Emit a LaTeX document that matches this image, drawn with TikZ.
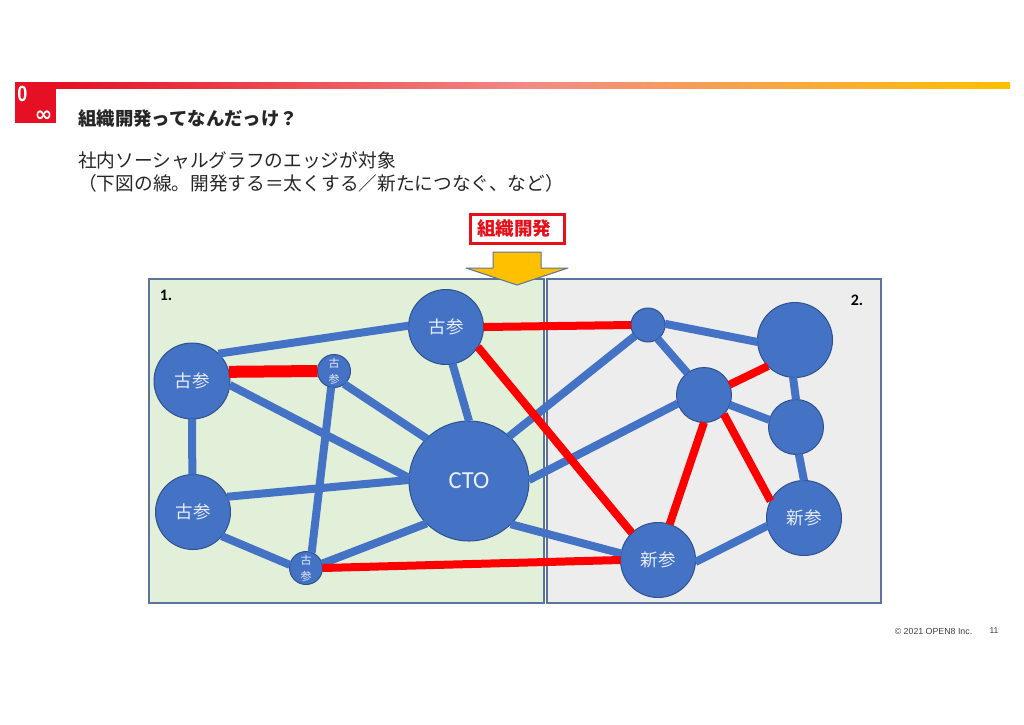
\documentclass[tikz,border=0pt]{standalone}
\usepackage{fontspec}
\setmainfont{Carlito}
\newfontfamily\cjk{Noto Sans CJK JP}
\newfontfamily\heros{Liberation Sans}
\newfontfamily\dejavu{DejaVu Sans}
\definecolor{nodeblue}{HTML}{4472C4}
\definecolor{nodeedge}{HTML}{2F528F}
\definecolor{logored}{HTML}{E60F24}
\definecolor{panelgreen}{HTML}{E2F0D9}
\definecolor{panelgray}{HTML}{EDEDED}
\definecolor{panelline}{HTML}{5B749E}
\definecolor{gold}{HTML}{FFC000}
\definecolor{barpink}{HTML}{F28A86}
\definecolor{devred}{HTML}{E5101A}
\tikzset{
  x=1pt,y=-1pt,
  vnode/.style={circle,fill=nodeblue,draw=nodeedge,line width=1pt,inner sep=0pt,outer sep=0pt,text=white!88!nodeblue,align=center},
  big/.style={vnode,minimum size=75pt,font=\cjk\fontsize{17.5}{19}\selectfont},
  hubnode/.style={vnode,minimum size=55pt},
  tiny/.style={vnode,minimum size=33pt,font=\cjk\fontsize{11}{16}\selectfont},
  blueedge/.style={draw=nodeblue,line width=8pt},
  rededge/.style={draw=red,line width=8pt},
  panel/.style={draw=panelline,line width=1.2pt},
  body/.style={anchor=west,inner sep=0pt,font=\cjk\fontsize{18.7}{22}\selectfont,text=black!85},
}
\begin{document}
\begin{tikzpicture}
\useasboundingbox (0,0) rectangle (1024,724);
\fill[white] (0,0) rectangle (1024,724);
% top bar and logo
\shade[left color=logored,right color=barpink,shading angle=90] (56,82) rectangle (530,88);
\shade[left color=barpink,right color=gold,shading angle=90] (530,82) rectangle (1010,88);
\fill[logored] (15,82) rectangle (56,123);
\node[inner sep=0pt,text=white,xscale=.82] (zero) at (22.5,94) {\heros\bfseries\fontsize{22}{22}\selectfont 0};
\node[inner sep=0pt,text=white] (inf) at (43.5,116.5) {\dejavu\bfseries\fontsize{21}{21}\selectfont ∞};
% texts
\node[body,font=\cjk\bfseries\fontsize{18.4}{22}\selectfont] (title) at (78,119) {組織開発ってなんだっけ？};
\node[body] (l1) at (78,160) {社内ソーシャルグラフのエッジが対象};
\node[body] (l2) at (78,183) {（下図の線。開発する＝太くする／新たにつなぐ、など）};
% panels
\fill[panelgreen] (149,279) rectangle (544,603);
\draw[panel] (149,279) rectangle (544,603);
\fill[panelgray] (547,279) rectangle (881,603);
\draw[panel] (547,279) rectangle (881,603);
\node[inner sep=0pt,font=\bfseries\fontsize{16}{16}\selectfont] (p1) at (166,295) {1.};
\node[inner sep=0pt,font=\bfseries\fontsize{16}{16}\selectfont] (p2) at (857,300) {2.};
% arrow and box
\draw[fill=gold,draw=panelline,line width=1pt,line join=round] (493,252) -- (541,252) -- (541,268) -- (568,268) -- (517,285) -- (466,268) -- (493,268) -- cycle;
\node[draw=devred,fill=white,line width=3pt,minimum width=94pt,minimum height=29pt,inner sep=0pt,text=devred,font=\cjk\bfseries\fontsize{18.5}{20}\selectfont] (dev) at (517,228.5) {\kern-6pt 組織開発};
% nodes
\node[big,minimum size=76pt] (v1) at (192,381) {古参};
\node[big] (v2) at (193,512) {古参};
\node[big] (v3) at (446,327) {古参};
\node[tiny] (s1) at (334,371) {古\\参};
\node[tiny] (s2) at (306,568) {古\\参};
\node[vnode,minimum size=120pt,font=\fontsize{24.5}{25}\selectfont] (cto) at (469,481) {CTO};
\node[vnode,minimum size=34pt] (n1) at (648,325) {};
\node[hubnode] (hub) at (704,395) {};
\node[big] (bign) at (795,340) {};
\node[hubnode] (mid) at (796,427) {};
\node[big] (new2) at (804,518) {新参};
\node[big] (new1) at (658,560) {新参};
% blue edges
\draw[blueedge] (v1.46) -- (v3.178);
\draw[blueedge] (v1.-90) -- (v2.91);
\draw[blueedge] (v1.-6) -- (cto.177);
\draw[blueedge] (s1.-100) -- (s2.70);
\draw[blueedge] (s1.-52) -- (cto.135);
\draw[blueedge] (v3.-80) -- (cto.90);
\draw[blueedge] (v2.24) -- (cto.179);
\draw[blueedge] (v2.-40) -- (s2.169);
\draw[blueedge] (s2.15) -- (cto.225);
\draw[blueedge] (cto.-46) -- (new1.170);
\draw[blueedge] (cto.48) -- (n1.220);
\draw[blueedge] (cto.1) -- (hub.198);
\draw[blueedge] (n1.-55) -- (hub.127);
\draw[blueedge] (n1.4) -- (bign.183);
\draw[blueedge] (bign.-93) -- (mid.90);
\draw[blueedge] (hub.-21) -- (mid.165);
\draw[blueedge] (mid.-84) -- (new2.90);
\draw[blueedge] (new1.-3) -- (new2.192);
% red edges
\draw[rededge,line width=12pt] (v1.14) -- (s1.180);
\draw[rededge] (v3.0) -- (n1.180);
\draw[rededge] (v3.-32) -- (new1.134);
\draw[rededge] (s2.0) -- (new1.180);
\draw[rededge] (hub.22) -- (bign.224);
\draw[rededge] (hub.-90) -- (new1.72);
\draw[rededge] (hub.-44) -- (new2.153);
% footer
\node[inner sep=0pt,text=black!75,font=\heros\fontsize{8.8}{10}\selectfont] (copy) at (933.5,631) {© 2021 OPEN8 Inc.};
\node[inner sep=0pt,text=black!75,font=\heros\fontsize{8.5}{10}\selectfont] (page) at (994,631) {11};
\end{tikzpicture}
\end{document}
